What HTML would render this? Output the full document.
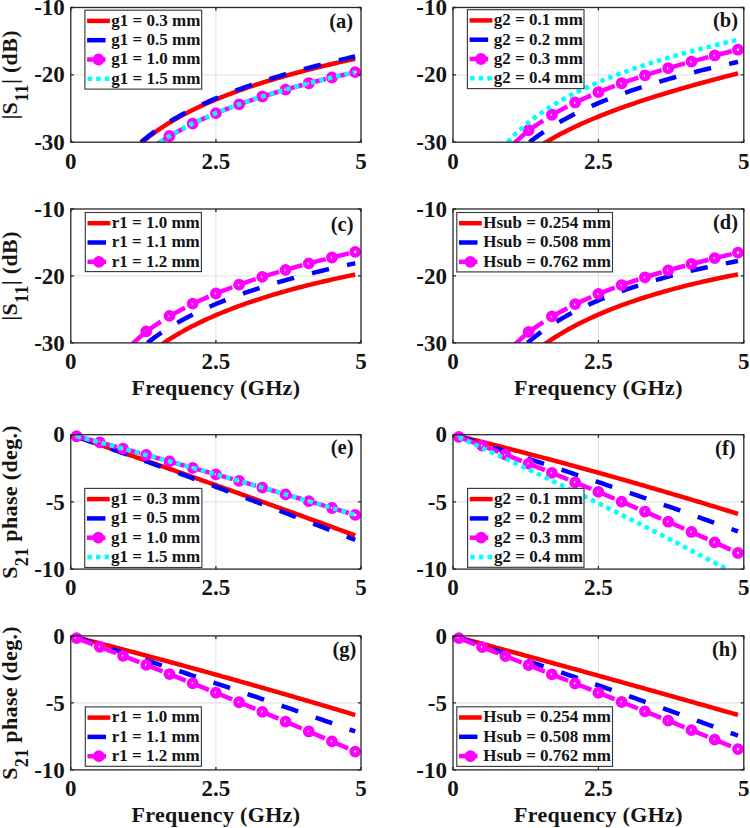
<!DOCTYPE html>
<html><head><meta charset="utf-8"><title>Parametric study</title>
<style>html,body{margin:0;padding:0;background:#fff;}body{width:750px;height:828px;overflow:hidden;}svg{display:block;}text{font-family:'Liberation Serif', serif;font-weight:bold;fill:#141414;}</style>
</head><body>
<svg width="750" height="828" viewBox="0 0 750 828">
<rect width="750" height="828" fill="#fff"/>
<defs>
<clipPath id="c0"><rect x="70.8" y="7.5" width="290.2" height="134.7"/></clipPath>
<clipPath id="c1"><rect x="453" y="7.5" width="290.8" height="134.7"/></clipPath>
<clipPath id="c2"><rect x="70.8" y="209" width="290.2" height="133.9"/></clipPath>
<clipPath id="c3"><rect x="453" y="209" width="290.8" height="133.9"/></clipPath>
<clipPath id="c4"><rect x="70.8" y="434.7" width="290.2" height="134.4"/></clipPath>
<clipPath id="c5"><rect x="453" y="434.7" width="290.8" height="134.4"/></clipPath>
<clipPath id="c6"><rect x="70.8" y="635.9" width="290.2" height="134"/></clipPath>
<clipPath id="c7"><rect x="453" y="635.9" width="290.8" height="134"/></clipPath>
</defs>
<path d="M215.9 7.5V142.2M70.8 74.85H361" stroke="#dfdfdf" stroke-width="1" fill="none"/>
<polyline clip-path="url(#c0)" fill="none" stroke-width="4.5" stroke-linejoin="round" points="135.8,147.72 138.13,145.62 140.45,143.58 142.77,141.62 145.09,139.71 147.41,137.87 149.73,136.07 152.06,134.33 154.38,132.64 156.7,131 159.02,129.4 161.34,127.84 163.66,126.32 165.99,124.84 168.31,123.39 170.63,121.98 172.95,120.6 175.27,119.25 177.59,117.93 179.92,116.64 182.24,115.37 184.56,114.13 186.88,112.92 189.2,111.73 191.52,110.56 193.84,109.42 196.17,108.29 198.49,107.19 200.81,106.11 203.13,105.04 205.45,104 207.77,102.97 210.1,101.96 212.42,100.96 214.74,99.98 217.06,99.02 219.38,98.07 221.7,97.14 224.03,96.22 226.35,95.32 228.67,94.42 230.99,93.54 233.31,92.68 235.63,91.82 237.96,90.98 240.28,90.15 242.6,89.33 244.92,88.52 247.24,87.72 249.56,86.93 251.88,86.15 254.21,85.39 256.53,84.63 258.85,83.88 261.17,83.14 263.49,82.41 265.81,81.68 268.14,80.97 270.46,80.26 272.78,79.56 275.1,78.87 277.42,78.19 279.74,77.52 282.07,76.85 284.39,76.19 286.71,75.53 289.03,74.89 291.35,74.25 293.67,73.61 296,72.99 298.32,72.36 300.64,71.75 302.96,71.14 305.28,70.54 307.6,69.94 309.92,69.35 312.25,68.77 314.57,68.19 316.89,67.61 319.21,67.04 321.53,66.48 323.85,65.92 326.18,65.36 328.5,64.81 330.82,64.27 333.14,63.73 335.46,63.2 337.78,62.66 340.11,62.14 342.43,61.62 344.75,61.1 347.07,60.59 349.39,60.08 351.71,59.57 354.04,59.07 355.2,58.82" stroke="#ff0000"/>
<polyline clip-path="url(#c0)" fill="none" stroke-width="4.5" stroke-linejoin="round" points="134.64,147.91 136.97,145.77 139.29,143.71 141.61,141.71 143.93,139.77 146.25,137.9 148.57,136.08 150.9,134.32 153.22,132.6 155.54,130.93 157.86,129.31 160.18,127.72 162.5,126.18 164.82,124.68 167.15,123.21 169.47,121.77 171.79,120.37 174.11,119 176.43,117.66 178.75,116.35 181.08,115.07 183.4,113.81 185.72,112.57 188.04,111.36 190.36,110.18 192.68,109.01 195.01,107.87 197.33,106.75 199.65,105.65 201.97,104.56 204.29,103.5 206.61,102.45 208.94,101.42 211.26,100.41 213.58,99.41 215.9,98.43 218.22,97.46 220.54,96.5 222.86,95.57 225.19,94.64 227.51,93.73 229.83,92.83 232.15,91.94 234.47,91.07 236.79,90.2 239.12,89.35 241.44,88.51 243.76,87.68 246.08,86.86 248.4,86.05 250.72,85.25 253.05,84.46 255.37,83.68 257.69,82.91 260.01,82.14 262.33,81.39 264.65,80.64 266.98,79.91 269.3,79.18 271.62,78.45 273.94,77.74 276.26,77.03 278.58,76.33 280.9,75.64 283.23,74.96 285.55,74.28 287.87,73.61 290.19,72.94 292.51,72.28 294.83,71.63 297.16,70.98 299.48,70.34 301.8,69.71 304.12,69.08 306.44,68.45 308.76,67.83 311.09,67.22 313.41,66.61 315.73,66.01 318.05,65.41 320.37,64.82 322.69,64.23 325.02,63.65 327.34,63.07 329.66,62.5 331.98,61.93 334.3,61.36 336.62,60.8 338.94,60.25 341.27,59.7 343.59,59.15 345.91,58.6 348.23,58.06 350.55,57.53 352.87,56.99 355.2,56.46" stroke="#0000ff" stroke-dasharray="17.5 18.5" stroke-dashoffset="-8.57"/>
<g clip-path="url(#c0)" fill="none" stroke="#ff00ff" stroke-width="4.5" stroke-dasharray="17.5 300"><path d="M157.87 143.89L169.47 136.01" stroke-dasharray="20.5 300"/><path d="M169.47 136.01L192.68 123.53"/><path d="M192.68 123.53L215.9 113.17"/><path d="M215.9 113.17L239.12 104.3"/><path d="M239.12 104.3L262.33 96.52"/><path d="M262.33 96.52L285.55 89.57"/><path d="M285.55 89.57L308.76 83.27"/><path d="M308.76 83.27L331.98 77.5"/><path d="M331.98 77.5L355.2 72.16"/></g>
<circle cx="169.47" cy="136.01" r="3.6" stroke="#ff00ff" stroke-width="4.6" fill="none"/>
<circle cx="192.68" cy="123.53" r="3.6" stroke="#ff00ff" stroke-width="4.6" fill="none"/>
<circle cx="215.9" cy="113.17" r="3.6" stroke="#ff00ff" stroke-width="4.6" fill="none"/>
<circle cx="239.12" cy="104.3" r="3.6" stroke="#ff00ff" stroke-width="4.6" fill="none"/>
<circle cx="262.33" cy="96.52" r="3.6" stroke="#ff00ff" stroke-width="4.6" fill="none"/>
<circle cx="285.55" cy="89.57" r="3.6" stroke="#ff00ff" stroke-width="4.6" fill="none"/>
<circle cx="308.76" cy="83.27" r="3.6" stroke="#ff00ff" stroke-width="4.6" fill="none"/>
<circle cx="331.98" cy="77.5" r="3.6" stroke="#ff00ff" stroke-width="4.6" fill="none"/>
<circle cx="355.2" cy="72.16" r="3.6" stroke="#ff00ff" stroke-width="4.6" fill="none"/>
<polyline clip-path="url(#c0)" fill="none" stroke-width="4.5" stroke-linejoin="round" points="152.64,147.01 154.96,145.36 157.28,143.76 159.6,142.21 161.92,140.69 164.24,139.21 166.57,137.76 168.89,136.35 171.21,134.97 173.53,133.63 175.85,132.31 178.17,131.02 180.5,129.76 182.82,128.52 185.14,127.31 187.46,126.12 189.78,124.95 192.1,123.81 194.43,122.69 196.75,121.58 199.07,120.5 201.39,119.44 203.71,118.39 206.03,117.36 208.35,116.35 210.68,115.36 213,114.38 215.32,113.41 217.64,112.46 219.96,111.53 222.28,110.61 224.61,109.7 226.93,108.8 229.25,107.92 231.57,107.05 233.89,106.19 236.21,105.34 238.54,104.51 240.86,103.68 243.18,102.87 245.5,102.06 247.82,101.27 250.14,100.49 252.47,99.71 254.79,98.95 257.11,98.19 259.43,97.44 261.75,96.7 264.07,95.97 266.39,95.25 268.72,94.53 271.04,93.82 273.36,93.12 275.68,92.43 278,91.75 280.32,91.07 282.65,90.4 284.97,89.73 287.29,89.07 289.61,88.42 291.93,87.77 294.25,87.14 296.58,86.5 298.9,85.87 301.22,85.25 303.54,84.64 305.86,84.02 308.18,83.42 310.51,82.82 312.83,82.22 315.15,81.63 317.47,81.05 319.79,80.47 322.11,79.89 324.43,79.32 326.76,78.75 329.08,78.19 331.4,77.64 333.72,77.08 336.04,76.53 338.36,75.99 340.69,75.45 343.01,74.91 345.33,74.38 347.65,73.85 349.97,73.32 352.29,72.8 354.62,72.29 355.2,72.16" stroke="#00ffff" stroke-dasharray="4.5 4.1" stroke-dashoffset="-8.47"/>
<rect x="70.8" y="7.5" width="290.2" height="134.7" fill="none" stroke="#262626" stroke-width="1.3"/>
<path d="M70.8 142.2v-3M70.8 7.5v3M215.9 142.2v-3M215.9 7.5v3M361 142.2v-3M361 7.5v3M70.8 142.2h3M361 142.2h-3M70.8 74.85h3M361 74.85h-3M70.8 7.5h3M361 7.5h-3" stroke="#262626" stroke-width="1.3" fill="none"/>
<text x="70.8" y="168.5" font-size="23" text-anchor="middle">0</text>
<text x="215.9" y="168.5" font-size="23" text-anchor="middle">2.5</text>
<text x="361" y="168.5" font-size="23" text-anchor="middle">5</text>
<text x="64.8" y="149.8" font-size="23" text-anchor="end">-30</text>
<text x="64.8" y="82.45" font-size="23" text-anchor="end">-20</text>
<text x="64.8" y="15.1" font-size="23" text-anchor="end">-10</text>
<rect x="84.9" y="10.2" width="116.8" height="78.9" fill="#fff" stroke="#3a3a3a" stroke-width="1.15"/>
<path d="M87.1 20.9H109.9" stroke="#ff0000" stroke-width="4.5"/>
<text x="111.3" y="25.7" font-size="17">g1 = 0.3 mm</text>
<path d="M87.1 40.2H105.6" stroke="#0000ff" stroke-width="4.5"/>
<text x="111.3" y="45" font-size="17">g1 = 0.5 mm</text>
<path d="M87.1 59.5H105.6" stroke="#ff00ff" stroke-width="4.5"/>
<circle cx="98.5" cy="59.5" r="3.6" stroke="#ff00ff" stroke-width="4.6" fill="#ff00ff"/>
<text x="111.3" y="64.3" font-size="17">g1 = 1.0 mm</text>
<path d="M87.6 78.8H109.9" stroke="#00ffff" stroke-width="4.5" stroke-dasharray="4.5 4.1"/>
<text x="111.3" y="83.6" font-size="17">g1 = 1.5 mm</text>
<text x="353.2" y="28.4" font-size="20.5" text-anchor="end">(a)</text>
<path d="M598.4 7.5V142.2M453 74.85H743.8" stroke="#dfdfdf" stroke-width="1" fill="none"/>
<polyline clip-path="url(#c1)" fill="none" stroke-width="4.5" stroke-linejoin="round" points="539.08,146.57 541.4,145.07 543.73,143.62 546.06,142.2 548.38,140.81 550.71,139.46 553.04,138.13 555.36,136.83 557.69,135.56 560.01,134.31 562.34,133.09 564.67,131.89 566.99,130.71 569.32,129.56 571.65,128.42 573.97,127.31 576.3,126.21 578.63,125.13 580.95,124.07 583.28,123.03 585.6,122 587.93,120.99 590.26,119.99 592.58,119 594.91,118.04 597.24,117.08 599.56,116.14 601.89,115.2 604.22,114.29 606.54,113.38 608.87,112.48 611.2,111.6 613.52,110.72 615.85,109.86 618.17,109 620.5,108.16 622.83,107.32 625.15,106.49 627.48,105.68 629.81,104.87 632.13,104.06 634.46,103.27 636.79,102.48 639.11,101.71 641.44,100.93 643.76,100.17 646.09,99.41 648.42,98.66 650.74,97.92 653.07,97.18 655.4,96.45 657.72,95.72 660.05,95 662.38,94.29 664.7,93.58 667.03,92.87 669.36,92.17 671.68,91.48 674.01,90.79 676.33,90.11 678.66,89.43 680.99,88.75 683.31,88.08 685.64,87.42 687.97,86.75 690.29,86.1 692.62,85.44 694.95,84.79 697.27,84.15 699.6,83.5 701.92,82.87 704.25,82.23 706.58,81.6 708.9,80.97 711.23,80.34 713.56,79.72 715.88,79.1 718.21,78.49 720.54,77.87 722.86,77.26 725.19,76.66 727.52,76.05 729.84,75.45 732.17,74.85 734.49,74.25 736.82,73.66 737.98,73.36" stroke="#ff0000"/>
<polyline clip-path="url(#c1)" fill="none" stroke-width="4.5" stroke-linejoin="round" points="523.37,147.36 525.7,145.38 528.03,143.46 530.35,141.6 532.68,139.8 535.01,138.04 537.33,136.34 539.66,134.68 541.98,133.07 544.31,131.5 546.64,129.96 548.96,128.47 551.29,127.01 553.62,125.58 555.94,124.19 558.27,122.83 560.6,121.5 562.92,120.19 565.25,118.92 567.58,117.67 569.9,116.44 572.23,115.24 574.55,114.06 576.88,112.91 579.21,111.77 581.53,110.66 583.86,109.56 586.19,108.49 588.51,107.43 590.84,106.39 593.17,105.37 595.49,104.37 597.82,103.38 600.14,102.41 602.47,101.45 604.8,100.51 607.12,99.58 609.45,98.66 611.78,97.76 614.1,96.87 616.43,96 618.76,95.14 621.08,94.28 623.41,93.44 625.74,92.62 628.06,91.8 630.39,90.99 632.71,90.19 635.04,89.41 637.37,88.63 639.69,87.87 642.02,87.11 644.35,86.36 646.67,85.62 649,84.89 651.33,84.17 653.65,83.45 655.98,82.75 658.3,82.05 660.63,81.36 662.96,80.68 665.28,80 667.61,79.34 669.94,78.68 672.26,78.02 674.59,77.38 676.92,76.74 679.24,76.1 681.57,75.47 683.9,74.85 686.22,74.24 688.55,73.63 690.87,73.03 693.2,72.43 695.53,71.84 697.85,71.25 700.18,70.67 702.51,70.1 704.83,69.53 707.16,68.96 709.49,68.4 711.81,67.85 714.14,67.3 716.46,66.75 718.79,66.21 721.12,65.68 723.44,65.14 725.77,64.62 728.1,64.09 730.42,63.58 732.75,63.06 735.08,62.55 737.4,62.05 737.98,61.92" stroke="#0000ff" stroke-dasharray="17.5 18.5" stroke-dashoffset="-8.08"/>
<g clip-path="url(#c1)" fill="none" stroke="#ff00ff" stroke-width="4.5" stroke-dasharray="17.5 300"><path d="M513.09 144.21L528.61 130.21" stroke-dasharray="20.5 300"/><path d="M528.61 130.21L551.87 114.77"/><path d="M551.87 114.77L575.14 102.46"/><path d="M575.14 102.46L598.4 92.16"/><path d="M598.4 92.16L621.66 83.24"/><path d="M621.66 83.24L644.93 75.33"/><path d="M644.93 75.33L668.19 68.17"/><path d="M668.19 68.17L691.46 61.59"/><path d="M691.46 61.59L714.72 55.47"/><path d="M714.72 55.47L737.98 49.72"/></g>
<circle cx="528.61" cy="130.21" r="3.6" stroke="#ff00ff" stroke-width="4.6" fill="none"/>
<circle cx="551.87" cy="114.77" r="3.6" stroke="#ff00ff" stroke-width="4.6" fill="none"/>
<circle cx="575.14" cy="102.46" r="3.6" stroke="#ff00ff" stroke-width="4.6" fill="none"/>
<circle cx="598.4" cy="92.16" r="3.6" stroke="#ff00ff" stroke-width="4.6" fill="none"/>
<circle cx="621.66" cy="83.24" r="3.6" stroke="#ff00ff" stroke-width="4.6" fill="none"/>
<circle cx="644.93" cy="75.33" r="3.6" stroke="#ff00ff" stroke-width="4.6" fill="none"/>
<circle cx="668.19" cy="68.17" r="3.6" stroke="#ff00ff" stroke-width="4.6" fill="none"/>
<circle cx="691.46" cy="61.59" r="3.6" stroke="#ff00ff" stroke-width="4.6" fill="none"/>
<circle cx="714.72" cy="55.47" r="3.6" stroke="#ff00ff" stroke-width="4.6" fill="none"/>
<circle cx="737.98" cy="49.72" r="3.6" stroke="#ff00ff" stroke-width="4.6" fill="none"/>
<polyline clip-path="url(#c1)" fill="none" stroke-width="4.5" stroke-linejoin="round" points="501.85,148.98 504.18,146.15 506.51,143.44 508.83,140.85 511.16,138.37 513.49,135.98 515.81,133.68 518.14,131.46 520.47,129.32 522.79,127.26 525.12,125.26 527.44,123.32 529.77,121.44 532.1,119.62 534.42,117.85 536.75,116.13 539.08,114.45 541.4,112.82 543.73,111.23 546.06,109.69 548.38,108.17 550.71,106.7 553.04,105.26 555.36,103.85 557.69,102.47 560.01,101.12 562.34,99.81 564.67,98.51 566.99,97.25 569.32,96.01 571.65,94.79 573.97,93.6 576.3,92.42 578.63,91.27 580.95,90.14 583.28,89.03 585.6,87.94 587.93,86.87 590.26,85.82 592.58,84.78 594.91,83.76 597.24,82.75 599.56,81.76 601.89,80.79 604.22,79.83 606.54,78.88 608.87,77.95 611.2,77.03 613.52,76.13 615.85,75.23 618.17,74.35 620.5,73.48 622.83,72.62 625.15,71.78 627.48,70.94 629.81,70.12 632.13,69.3 634.46,68.49 636.79,67.7 639.11,66.91 641.44,66.14 643.76,65.37 646.09,64.61 648.42,63.86 650.74,63.11 653.07,62.38 655.4,61.65 657.72,60.93 660.05,60.22 662.38,59.52 664.7,58.82 667.03,58.13 669.36,57.45 671.68,56.77 674.01,56.11 676.33,55.44 678.66,54.79 680.99,54.14 683.31,53.49 685.64,52.85 687.97,52.22 690.29,51.59 692.62,50.97 694.95,50.36 697.27,49.74 699.6,49.14 701.92,48.54 704.25,47.94 706.58,47.35 708.9,46.77 711.23,46.19 713.56,45.61 715.88,45.04 718.21,44.47 720.54,43.91 722.86,43.35 725.19,42.8 727.52,42.25 729.84,41.7 732.17,41.16 734.49,40.62 736.82,40.09 737.98,39.82" stroke="#00ffff" stroke-dasharray="4.5 4.1" stroke-dashoffset="-8.9"/>
<rect x="453" y="7.5" width="290.8" height="134.7" fill="none" stroke="#262626" stroke-width="1.3"/>
<path d="M453 142.2v-3M453 7.5v3M598.4 142.2v-3M598.4 7.5v3M743.8 142.2v-3M743.8 7.5v3M453 142.2h3M743.8 142.2h-3M453 74.85h3M743.8 74.85h-3M453 7.5h3M743.8 7.5h-3" stroke="#262626" stroke-width="1.3" fill="none"/>
<text x="453" y="168.5" font-size="23" text-anchor="middle">0</text>
<text x="598.4" y="168.5" font-size="23" text-anchor="middle">2.5</text>
<text x="743.8" y="168.5" font-size="23" text-anchor="middle">5</text>
<text x="447" y="149.8" font-size="23" text-anchor="end">-30</text>
<text x="447" y="82.45" font-size="23" text-anchor="end">-20</text>
<text x="447" y="15.1" font-size="23" text-anchor="end">-10</text>
<rect x="467.4" y="9.7" width="116.6" height="78.9" fill="#fff" stroke="#3a3a3a" stroke-width="1.15"/>
<path d="M469.6 20.4H492.4" stroke="#ff0000" stroke-width="4.5"/>
<text x="493.8" y="25.2" font-size="17">g2 = 0.1 mm</text>
<path d="M469.6 39.7H488.1" stroke="#0000ff" stroke-width="4.5"/>
<text x="493.8" y="44.5" font-size="17">g2 = 0.2 mm</text>
<path d="M469.6 59H488.1" stroke="#ff00ff" stroke-width="4.5"/>
<circle cx="481" cy="59" r="3.6" stroke="#ff00ff" stroke-width="4.6" fill="#ff00ff"/>
<text x="493.8" y="63.8" font-size="17">g2 = 0.3 mm</text>
<path d="M470.1 78.3H492.4" stroke="#00ffff" stroke-width="4.5" stroke-dasharray="4.5 4.1"/>
<text x="493.8" y="83.1" font-size="17">g2 = 0.4 mm</text>
<text x="738" y="27.1" font-size="20.5" text-anchor="end">(b)</text>
<path d="M215.9 209V342.9M70.8 275.95H361" stroke="#dfdfdf" stroke-width="1" fill="none"/>
<polyline clip-path="url(#c2)" fill="none" stroke-width="4.5" stroke-linejoin="round" points="157.28,347.63 159.6,345.96 161.92,344.33 164.24,342.74 166.57,341.2 168.89,339.69 171.21,338.21 173.53,336.78 175.85,335.37 178.17,334 180.5,332.65 182.82,331.34 185.14,330.05 187.46,328.79 189.78,327.56 192.1,326.35 194.43,325.16 196.75,324 199.07,322.86 201.39,321.74 203.71,320.64 206.03,319.56 208.35,318.5 210.68,317.46 213,316.44 215.32,315.43 217.64,314.44 219.96,313.47 222.28,312.51 224.61,311.57 226.93,310.64 229.25,309.73 231.57,308.83 233.89,307.95 236.21,307.08 238.54,306.22 240.86,305.37 243.18,304.54 245.5,303.72 247.82,302.91 250.14,302.11 252.47,301.32 254.79,300.55 257.11,299.78 259.43,299.02 261.75,298.28 264.07,297.54 266.39,296.82 268.72,296.1 271.04,295.39 273.36,294.69 275.68,294 278,293.32 280.32,292.65 282.65,291.99 284.97,291.33 287.29,290.68 289.61,290.04 291.93,289.41 294.25,288.78 296.58,288.16 298.9,287.55 301.22,286.95 303.54,286.35 305.86,285.76 308.18,285.18 310.51,284.6 312.83,284.03 315.15,283.46 317.47,282.9 319.79,282.35 322.11,281.8 324.43,281.26 326.76,280.73 329.08,280.2 331.4,279.67 333.72,279.16 336.04,278.64 338.36,278.14 340.69,277.63 343.01,277.14 345.33,276.64 347.65,276.16 349.97,275.67 352.29,275.2 354.62,274.72 355.2,274.61" stroke="#ff0000"/>
<polyline clip-path="url(#c2)" fill="none" stroke-width="4.5" stroke-linejoin="round" points="141.03,348.2 143.35,346.22 145.67,344.3 147.99,342.44 150.31,340.63 152.64,338.88 154.96,337.17 157.28,335.51 159.6,333.9 161.92,332.33 164.24,330.79 166.57,329.3 168.89,327.84 171.21,326.41 173.53,325.02 175.85,323.66 178.17,322.33 180.5,321.03 182.82,319.75 185.14,318.5 187.46,317.28 189.78,316.08 192.1,314.9 194.43,313.75 196.75,312.62 199.07,311.5 201.39,310.41 203.71,309.34 206.03,308.29 208.35,307.25 210.68,306.23 213,305.23 215.32,304.25 217.64,303.28 219.96,302.32 222.28,301.38 224.61,300.46 226.93,299.55 229.25,298.65 231.57,297.77 233.89,296.9 236.21,296.04 238.54,295.19 240.86,294.36 243.18,293.53 245.5,292.72 247.82,291.92 250.14,291.13 252.47,290.35 254.79,289.58 257.11,288.82 259.43,288.06 261.75,287.32 264.07,286.59 266.39,285.87 268.72,285.15 271.04,284.44 273.36,283.74 275.68,283.05 278,282.37 280.32,281.7 282.65,281.03 284.97,280.37 287.29,279.71 289.61,279.07 291.93,278.43 294.25,277.8 296.58,277.17 298.9,276.55 301.22,275.94 303.54,275.33 305.86,274.73 308.18,274.14 310.51,273.55 312.83,272.97 315.15,272.39 317.47,271.82 319.79,271.25 322.11,270.69 324.43,270.14 326.76,269.59 329.08,269.04 331.4,268.5 333.72,267.97 336.04,267.44 338.36,266.91 340.69,266.39 343.01,265.87 345.33,265.36 347.65,264.86 349.97,264.35 352.29,263.85 354.62,263.36 355.2,263.24" stroke="#0000ff" stroke-dasharray="17.5 18.5" stroke-dashoffset="-8.3"/>
<g clip-path="url(#c2)" fill="none" stroke="#ff00ff" stroke-width="4.5" stroke-dasharray="17.5 300"><path d="M131.23 344.91L146.25 331.35" stroke-dasharray="20.5 300"/><path d="M146.25 331.35L169.47 315.94"/><path d="M169.47 315.94L192.68 303.69"/><path d="M192.68 303.69L215.9 293.47"/><path d="M215.9 293.47L239.12 284.65"/><path d="M239.12 284.65L262.33 276.86"/><path d="M262.33 276.86L285.55 269.84"/><path d="M285.55 269.84L308.76 263.42"/><path d="M308.76 263.42L331.98 257.48"/><path d="M331.98 257.48L355.2 251.92"/></g>
<circle cx="146.25" cy="331.35" r="3.6" stroke="#ff00ff" stroke-width="4.6" fill="none"/>
<circle cx="169.47" cy="315.94" r="3.6" stroke="#ff00ff" stroke-width="4.6" fill="none"/>
<circle cx="192.68" cy="303.69" r="3.6" stroke="#ff00ff" stroke-width="4.6" fill="none"/>
<circle cx="215.9" cy="293.47" r="3.6" stroke="#ff00ff" stroke-width="4.6" fill="none"/>
<circle cx="239.12" cy="284.65" r="3.6" stroke="#ff00ff" stroke-width="4.6" fill="none"/>
<circle cx="262.33" cy="276.86" r="3.6" stroke="#ff00ff" stroke-width="4.6" fill="none"/>
<circle cx="285.55" cy="269.84" r="3.6" stroke="#ff00ff" stroke-width="4.6" fill="none"/>
<circle cx="308.76" cy="263.42" r="3.6" stroke="#ff00ff" stroke-width="4.6" fill="none"/>
<circle cx="331.98" cy="257.48" r="3.6" stroke="#ff00ff" stroke-width="4.6" fill="none"/>
<circle cx="355.2" cy="251.92" r="3.6" stroke="#ff00ff" stroke-width="4.6" fill="none"/>
<rect x="70.8" y="209" width="290.2" height="133.9" fill="none" stroke="#262626" stroke-width="1.3"/>
<path d="M70.8 342.9v-3M70.8 209v3M215.9 342.9v-3M215.9 209v3M361 342.9v-3M361 209v3M70.8 342.9h3M361 342.9h-3M70.8 275.95h3M361 275.95h-3M70.8 209h3M361 209h-3" stroke="#262626" stroke-width="1.3" fill="none"/>
<text x="70.8" y="369.2" font-size="23" text-anchor="middle">0</text>
<text x="215.9" y="369.2" font-size="23" text-anchor="middle">2.5</text>
<text x="361" y="369.2" font-size="23" text-anchor="middle">5</text>
<text x="64.8" y="350.5" font-size="23" text-anchor="end">-30</text>
<text x="64.8" y="283.55" font-size="23" text-anchor="end">-20</text>
<text x="64.8" y="216.6" font-size="23" text-anchor="end">-10</text>
<rect x="85.3" y="212.5" width="116.1" height="59.1" fill="#fff" stroke="#3a3a3a" stroke-width="1.15"/>
<path d="M87.5 223.2H110.3" stroke="#ff0000" stroke-width="4.5"/>
<text x="111.7" y="228" font-size="17">r1 = 1.0 mm</text>
<path d="M87.5 242.5H106" stroke="#0000ff" stroke-width="4.5"/>
<text x="111.7" y="247.3" font-size="17">r1 = 1.1 mm</text>
<path d="M87.5 261.8H106" stroke="#ff00ff" stroke-width="4.5"/>
<circle cx="98.9" cy="261.8" r="3.6" stroke="#ff00ff" stroke-width="4.6" fill="#ff00ff"/>
<text x="111.7" y="266.6" font-size="17">r1 = 1.2 mm</text>
<text x="353.5" y="231.1" font-size="20.5" text-anchor="end">(c)</text>
<path d="M598.4 209V342.9M453 275.95H743.8" stroke="#dfdfdf" stroke-width="1" fill="none"/>
<polyline clip-path="url(#c3)" fill="none" stroke-width="4.5" stroke-linejoin="round" points="539.66,347.95 541.98,346.22 544.31,344.54 546.64,342.9 548.96,341.3 551.29,339.74 553.62,338.22 555.94,336.74 558.27,335.29 560.6,333.87 562.92,332.49 565.25,331.13 567.58,329.81 569.9,328.51 572.23,327.24 574.55,326 576.88,324.79 579.21,323.59 581.53,322.42 583.86,321.28 586.19,320.15 588.51,319.05 590.84,317.96 593.17,316.9 595.49,315.86 597.82,314.83 600.14,313.82 602.47,312.83 604.8,311.86 607.12,310.9 609.45,309.96 611.78,309.03 614.1,308.12 616.43,307.23 618.76,306.35 621.08,305.48 623.41,304.62 625.74,303.78 628.06,302.95 630.39,302.14 632.71,301.34 635.04,300.54 637.37,299.77 639.69,299 642.02,298.24 644.35,297.49 646.67,296.76 649,296.03 651.33,295.32 653.65,294.61 655.98,293.92 658.3,293.23 660.63,292.56 662.96,291.89 665.28,291.23 667.61,290.58 669.94,289.94 672.26,289.31 674.59,288.69 676.92,288.07 679.24,287.46 681.57,286.86 683.9,286.27 686.22,285.69 688.55,285.11 690.87,284.54 693.2,283.98 695.53,283.42 697.85,282.88 700.18,282.33 702.51,281.8 704.83,281.27 707.16,280.75 709.49,280.23 711.81,279.72 714.14,279.22 716.46,278.72 718.79,278.23 721.12,277.75 723.44,277.27 725.77,276.8 728.1,276.33 730.42,275.87 732.75,275.41 735.08,274.96 737.4,274.51 737.98,274.4" stroke="#ff0000"/>
<polyline clip-path="url(#c3)" fill="none" stroke-width="4.5" stroke-linejoin="round" points="521.05,348.71 523.37,346.54 525.7,344.43 528.03,342.4 530.35,340.43 532.68,338.52 535.01,336.66 537.33,334.86 539.66,333.11 541.98,331.41 544.31,329.76 546.64,328.14 548.96,326.57 551.29,325.04 553.62,323.55 555.94,322.09 558.27,320.66 560.6,319.27 562.92,317.91 565.25,316.58 567.58,315.28 569.9,314.01 572.23,312.76 574.55,311.54 576.88,310.35 579.21,309.17 581.53,308.03 583.86,306.9 586.19,305.79 588.51,304.71 590.84,303.65 593.17,302.6 595.49,301.58 597.82,300.57 600.14,299.58 602.47,298.61 604.8,297.65 607.12,296.71 609.45,295.79 611.78,294.88 614.1,293.99 616.43,293.11 618.76,292.25 621.08,291.39 623.41,290.56 625.74,289.73 628.06,288.92 630.39,288.12 632.71,287.33 635.04,286.56 637.37,285.8 639.69,285.04 642.02,284.3 644.35,283.57 646.67,282.85 649,282.14 651.33,281.44 653.65,280.75 655.98,280.07 658.3,279.4 660.63,278.74 662.96,278.09 665.28,277.44 667.61,276.81 669.94,276.18 672.26,275.56 674.59,274.95 676.92,274.35 679.24,273.76 681.57,273.17 683.9,272.59 686.22,272.02 688.55,271.46 690.87,270.9 693.2,270.35 695.53,269.81 697.85,269.28 700.18,268.75 702.51,268.23 704.83,267.71 707.16,267.2 709.49,266.7 711.81,266.2 714.14,265.71 716.46,265.23 718.79,264.75 721.12,264.28 723.44,263.81 725.77,263.35 728.1,262.9 730.42,262.45 732.75,262 735.08,261.56 737.4,261.13 737.98,261.02" stroke="#0000ff" stroke-dasharray="17.5 18.5" stroke-dashoffset="-8.64"/>
<g clip-path="url(#c3)" fill="none" stroke="#ff00ff" stroke-width="4.5" stroke-dasharray="17.5 300"><path d="M514.26 344.92L528.61 331.89" stroke-dasharray="20.5 300"/><path d="M528.61 331.89L551.87 316.39"/><path d="M551.87 316.39L575.14 304.09"/><path d="M575.14 304.09L598.4 293.85"/><path d="M598.4 293.85L621.66 285.04"/><path d="M621.66 285.04L644.93 277.28"/><path d="M644.93 277.28L668.19 270.31"/><path d="M668.19 270.31L691.46 263.97"/><path d="M691.46 263.97L714.72 258.12"/><path d="M714.72 258.12L737.98 252.67"/></g>
<circle cx="528.61" cy="331.89" r="3.6" stroke="#ff00ff" stroke-width="4.6" fill="none"/>
<circle cx="551.87" cy="316.39" r="3.6" stroke="#ff00ff" stroke-width="4.6" fill="none"/>
<circle cx="575.14" cy="304.09" r="3.6" stroke="#ff00ff" stroke-width="4.6" fill="none"/>
<circle cx="598.4" cy="293.85" r="3.6" stroke="#ff00ff" stroke-width="4.6" fill="none"/>
<circle cx="621.66" cy="285.04" r="3.6" stroke="#ff00ff" stroke-width="4.6" fill="none"/>
<circle cx="644.93" cy="277.28" r="3.6" stroke="#ff00ff" stroke-width="4.6" fill="none"/>
<circle cx="668.19" cy="270.31" r="3.6" stroke="#ff00ff" stroke-width="4.6" fill="none"/>
<circle cx="691.46" cy="263.97" r="3.6" stroke="#ff00ff" stroke-width="4.6" fill="none"/>
<circle cx="714.72" cy="258.12" r="3.6" stroke="#ff00ff" stroke-width="4.6" fill="none"/>
<circle cx="737.98" cy="252.67" r="3.6" stroke="#ff00ff" stroke-width="4.6" fill="none"/>
<rect x="453" y="209" width="290.8" height="133.9" fill="none" stroke="#262626" stroke-width="1.3"/>
<path d="M453 342.9v-3M453 209v3M598.4 342.9v-3M598.4 209v3M743.8 342.9v-3M743.8 209v3M453 342.9h3M743.8 342.9h-3M453 275.95h3M743.8 275.95h-3M453 209h3M743.8 209h-3" stroke="#262626" stroke-width="1.3" fill="none"/>
<text x="453" y="369.2" font-size="23" text-anchor="middle">0</text>
<text x="598.4" y="369.2" font-size="23" text-anchor="middle">2.5</text>
<text x="743.8" y="369.2" font-size="23" text-anchor="middle">5</text>
<text x="447" y="350.5" font-size="23" text-anchor="end">-30</text>
<text x="447" y="283.55" font-size="23" text-anchor="end">-20</text>
<text x="447" y="216.6" font-size="23" text-anchor="end">-10</text>
<rect x="456.8" y="212.5" width="155.7" height="59.4" fill="#fff" stroke="#3a3a3a" stroke-width="1.15"/>
<path d="M459 223.2H481.8" stroke="#ff0000" stroke-width="4.5"/>
<text x="483.2" y="228" font-size="17">Hsub = 0.254 mm</text>
<path d="M459 242.5H477.5" stroke="#0000ff" stroke-width="4.5"/>
<text x="483.2" y="247.3" font-size="17">Hsub = 0.508 mm</text>
<path d="M459 261.8H477.5" stroke="#ff00ff" stroke-width="4.5"/>
<circle cx="470.4" cy="261.8" r="3.6" stroke="#ff00ff" stroke-width="4.6" fill="#ff00ff"/>
<text x="483.2" y="266.6" font-size="17">Hsub = 0.762 mm</text>
<text x="738" y="229" font-size="20.5" text-anchor="end">(d)</text>
<path d="M215.9 434.7V569.1M70.8 501.9H361" stroke="#dfdfdf" stroke-width="1" fill="none"/>
<polyline clip-path="url(#c4)" fill="none" stroke-width="4.5" stroke-linejoin="round" points="76.6,436.69 78.93,437.48 81.25,438.28 83.57,439.07 85.89,439.87 88.21,440.66 90.53,441.46 92.86,442.26 95.18,443.06 97.5,443.86 99.82,444.66 102.14,445.46 104.46,446.26 106.78,447.06 109.11,447.86 111.43,448.66 113.75,449.46 116.07,450.26 118.39,451.07 120.71,451.87 123.04,452.67 125.36,453.48 127.68,454.28 130,455.09 132.32,455.89 134.64,456.7 136.97,457.51 139.29,458.31 141.61,459.12 143.93,459.93 146.25,460.74 148.57,461.55 150.9,462.36 153.22,463.17 155.54,463.98 157.86,464.79 160.18,465.6 162.5,466.41 164.82,467.22 167.15,468.04 169.47,468.85 171.79,469.66 174.11,470.48 176.43,471.29 178.75,472.11 181.08,472.92 183.4,473.74 185.72,474.56 188.04,475.37 190.36,476.19 192.68,477.01 195.01,477.83 197.33,478.65 199.65,479.47 201.97,480.29 204.29,481.11 206.61,481.93 208.94,482.75 211.26,483.57 213.58,484.39 215.9,485.22 218.22,486.04 220.54,486.86 222.86,487.69 225.19,488.51 227.51,489.34 229.83,490.16 232.15,490.99 234.47,491.82 236.79,492.64 239.12,493.47 241.44,494.3 243.76,495.13 246.08,495.96 248.4,496.79 250.72,497.62 253.05,498.45 255.37,499.28 257.69,500.11 260.01,500.94 262.33,501.77 264.65,502.61 266.98,503.44 269.3,504.27 271.62,505.11 273.94,505.94 276.26,506.78 278.58,507.61 280.9,508.45 283.23,509.29 285.55,510.12 287.87,510.96 290.19,511.8 292.51,512.64 294.83,513.48 297.16,514.31 299.48,515.15 301.8,515.99 304.12,516.84 306.44,517.68 308.76,518.52 311.09,519.36 313.41,520.2 315.73,521.05 318.05,521.89 320.37,522.73 322.69,523.58 325.02,524.42 327.34,525.27 329.66,526.12 331.98,526.96 334.3,527.81 336.62,528.66 338.94,529.5 341.27,530.35 343.59,531.2 345.91,532.05 348.23,532.9 350.55,533.75 352.87,534.6 355.2,535.45" stroke="#ff0000"/>
<polyline clip-path="url(#c4)" fill="none" stroke-width="4.5" stroke-linejoin="round" points="76.6,436.72 78.93,437.53 81.25,438.35 83.57,439.16 85.89,439.97 88.21,440.79 90.53,441.6 92.86,442.42 95.18,443.24 97.5,444.05 99.82,444.87 102.14,445.69 104.46,446.51 106.78,447.33 109.11,448.15 111.43,448.98 113.75,449.8 116.07,450.62 118.39,451.45 120.71,452.27 123.04,453.1 125.36,453.93 127.68,454.76 130,455.59 132.32,456.42 134.64,457.25 136.97,458.08 139.29,458.91 141.61,459.74 143.93,460.58 146.25,461.41 148.57,462.25 150.9,463.08 153.22,463.92 155.54,464.76 157.86,465.6 160.18,466.44 162.5,467.28 164.82,468.12 167.15,468.96 169.47,469.81 171.79,470.65 174.11,471.49 176.43,472.34 178.75,473.19 181.08,474.03 183.4,474.88 185.72,475.73 188.04,476.58 190.36,477.43 192.68,478.28 195.01,479.13 197.33,479.99 199.65,480.84 201.97,481.69 204.29,482.55 206.61,483.41 208.94,484.26 211.26,485.12 213.58,485.98 215.9,486.84 218.22,487.7 220.54,488.56 222.86,489.42 225.19,490.28 227.51,491.15 229.83,492.01 232.15,492.88 234.47,493.74 236.79,494.61 239.12,495.48 241.44,496.35 243.76,497.22 246.08,498.09 248.4,498.96 250.72,499.83 253.05,500.7 255.37,501.58 257.69,502.45 260.01,503.33 262.33,504.2 264.65,505.08 266.98,505.96 269.3,506.83 271.62,507.71 273.94,508.59 276.26,509.47 278.58,510.36 280.9,511.24 283.23,512.12 285.55,513.01 287.87,513.89 290.19,514.78 292.51,515.66 294.83,516.55 297.16,517.44 299.48,518.33 301.8,519.22 304.12,520.11 306.44,521 308.76,521.89 311.09,522.78 313.41,523.68 315.73,524.57 318.05,525.47 320.37,526.37 322.69,527.26 325.02,528.16 327.34,529.06 329.66,529.96 331.98,530.86 334.3,531.76 336.62,532.66 338.94,533.57 341.27,534.47 343.59,535.38 345.91,536.28 348.23,537.19 350.55,538.09 352.87,539 355.2,539.91" stroke="#0000ff" stroke-dasharray="17.5 18.5" stroke-dashoffset="-0"/>
<g clip-path="url(#c4)" fill="none" stroke="#ff00ff" stroke-width="4.5" stroke-dasharray="17.5 300"><path d="M76.6 436.23L99.82 442.41"/><path d="M99.82 442.41L123.04 448.66"/><path d="M123.04 448.66L146.25 454.98"/><path d="M146.25 454.98L169.47 461.37"/><path d="M169.47 461.37L192.68 467.82"/><path d="M192.68 467.82L215.9 474.35"/><path d="M215.9 474.35L239.12 480.94"/><path d="M239.12 480.94L262.33 487.6"/><path d="M262.33 487.6L285.55 494.33"/><path d="M285.55 494.33L308.76 501.13"/><path d="M308.76 501.13L331.98 508"/><path d="M331.98 508L355.2 514.94"/></g>
<circle cx="76.6" cy="436.23" r="3.6" stroke="#ff00ff" stroke-width="4.6" fill="none"/>
<circle cx="99.82" cy="442.41" r="3.6" stroke="#ff00ff" stroke-width="4.6" fill="none"/>
<circle cx="123.04" cy="448.66" r="3.6" stroke="#ff00ff" stroke-width="4.6" fill="none"/>
<circle cx="146.25" cy="454.98" r="3.6" stroke="#ff00ff" stroke-width="4.6" fill="none"/>
<circle cx="169.47" cy="461.37" r="3.6" stroke="#ff00ff" stroke-width="4.6" fill="none"/>
<circle cx="192.68" cy="467.82" r="3.6" stroke="#ff00ff" stroke-width="4.6" fill="none"/>
<circle cx="215.9" cy="474.35" r="3.6" stroke="#ff00ff" stroke-width="4.6" fill="none"/>
<circle cx="239.12" cy="480.94" r="3.6" stroke="#ff00ff" stroke-width="4.6" fill="none"/>
<circle cx="262.33" cy="487.6" r="3.6" stroke="#ff00ff" stroke-width="4.6" fill="none"/>
<circle cx="285.55" cy="494.33" r="3.6" stroke="#ff00ff" stroke-width="4.6" fill="none"/>
<circle cx="308.76" cy="501.13" r="3.6" stroke="#ff00ff" stroke-width="4.6" fill="none"/>
<circle cx="331.98" cy="508" r="3.6" stroke="#ff00ff" stroke-width="4.6" fill="none"/>
<circle cx="355.2" cy="514.94" r="3.6" stroke="#ff00ff" stroke-width="4.6" fill="none"/>
<polyline clip-path="url(#c4)" fill="none" stroke-width="4.5" stroke-linejoin="round" points="76.6,436.23 78.93,436.85 81.25,437.46 83.57,438.08 85.89,438.7 88.21,439.32 90.53,439.93 92.86,440.55 95.18,441.17 97.5,441.79 99.82,442.41 102.14,443.04 104.46,443.66 106.78,444.28 109.11,444.91 111.43,445.53 113.75,446.16 116.07,446.78 118.39,447.41 120.71,448.04 123.04,448.66 125.36,449.29 127.68,449.92 130,450.55 132.32,451.18 134.64,451.81 136.97,452.45 139.29,453.08 141.61,453.71 143.93,454.35 146.25,454.98 148.57,455.62 150.9,456.25 153.22,456.89 155.54,457.53 157.86,458.17 160.18,458.81 162.5,459.44 164.82,460.09 167.15,460.73 169.47,461.37 171.79,462.01 174.11,462.65 176.43,463.3 178.75,463.94 181.08,464.59 183.4,465.23 185.72,465.88 188.04,466.53 190.36,467.18 192.68,467.82 195.01,468.47 197.33,469.12 199.65,469.77 201.97,470.43 204.29,471.08 206.61,471.73 208.94,472.38 211.26,473.04 213.58,473.69 215.9,474.35 218.22,475 220.54,475.66 222.86,476.32 225.19,476.98 227.51,477.64 229.83,478.3 232.15,478.96 234.47,479.62 236.79,480.28 239.12,480.94 241.44,481.6 243.76,482.27 246.08,482.93 248.4,483.6 250.72,484.26 253.05,484.93 255.37,485.6 257.69,486.27 260.01,486.93 262.33,487.6 264.65,488.27 266.98,488.94 269.3,489.62 271.62,490.29 273.94,490.96 276.26,491.63 278.58,492.31 280.9,492.98 283.23,493.66 285.55,494.33 287.87,495.01 290.19,495.69 292.51,496.37 294.83,497.05 297.16,497.72 299.48,498.41 301.8,499.09 304.12,499.77 306.44,500.45 308.76,501.13 311.09,501.82 313.41,502.5 315.73,503.19 318.05,503.87 320.37,504.56 322.69,505.25 325.02,505.93 327.34,506.62 329.66,507.31 331.98,508 334.3,508.69 336.62,509.38 338.94,510.08 341.27,510.77 343.59,511.46 345.91,512.16 348.23,512.85 350.55,513.55 352.87,514.24 355.2,514.94" stroke="#00ffff" stroke-dasharray="4.5 4.1" stroke-dashoffset="-0"/>
<rect x="70.8" y="434.7" width="290.2" height="134.4" fill="none" stroke="#262626" stroke-width="1.3"/>
<path d="M70.8 569.1v-3M70.8 434.7v3M215.9 569.1v-3M215.9 434.7v3M361 569.1v-3M361 434.7v3M70.8 569.1h3M361 569.1h-3M70.8 501.9h3M361 501.9h-3M70.8 434.7h3M361 434.7h-3" stroke="#262626" stroke-width="1.3" fill="none"/>
<text x="70.8" y="595.4" font-size="23" text-anchor="middle">0</text>
<text x="215.9" y="595.4" font-size="23" text-anchor="middle">2.5</text>
<text x="361" y="595.4" font-size="23" text-anchor="middle">5</text>
<text x="64.8" y="576.7" font-size="23" text-anchor="end">-10</text>
<text x="64.8" y="509.5" font-size="23" text-anchor="end">-5</text>
<text x="64.8" y="442.3" font-size="23" text-anchor="end">0</text>
<rect x="84.7" y="488.4" width="117.2" height="79.1" fill="#fff" stroke="#3a3a3a" stroke-width="1.15"/>
<path d="M86.9 499.1H109.7" stroke="#ff0000" stroke-width="4.5"/>
<text x="111.1" y="503.9" font-size="17">g1 = 0.3 mm</text>
<path d="M86.9 518.4H105.4" stroke="#0000ff" stroke-width="4.5"/>
<text x="111.1" y="523.2" font-size="17">g1 = 0.5 mm</text>
<path d="M86.9 537.7H105.4" stroke="#ff00ff" stroke-width="4.5"/>
<circle cx="98.3" cy="537.7" r="3.6" stroke="#ff00ff" stroke-width="4.6" fill="#ff00ff"/>
<text x="111.1" y="542.5" font-size="17">g1 = 1.0 mm</text>
<path d="M87.4 557H109.7" stroke="#00ffff" stroke-width="4.5" stroke-dasharray="4.5 4.1"/>
<text x="111.1" y="561.8" font-size="17">g1 = 1.5 mm</text>
<text x="353.5" y="453.6" font-size="20.5" text-anchor="end">(e)</text>
<path d="M598.4 434.7V569.1M453 501.9H743.8" stroke="#dfdfdf" stroke-width="1" fill="none"/>
<polyline clip-path="url(#c5)" fill="none" stroke-width="4.5" stroke-linejoin="round" points="458.82,436.13 461.14,436.7 463.47,437.27 465.8,437.85 468.12,438.43 470.45,439.01 472.77,439.58 475.1,440.17 477.43,440.75 479.75,441.33 482.08,441.91 484.41,442.5 486.73,443.09 489.06,443.68 491.39,444.26 493.71,444.86 496.04,445.45 498.36,446.04 500.69,446.63 503.02,447.23 505.34,447.83 507.67,448.43 510,449.03 512.32,449.63 514.65,450.23 516.98,450.83 519.3,451.44 521.63,452.04 523.96,452.65 526.28,453.26 528.61,453.87 530.93,454.48 533.26,455.09 535.59,455.7 537.91,456.32 540.24,456.93 542.57,457.55 544.89,458.17 547.22,458.79 549.55,459.41 551.87,460.03 554.2,460.65 556.52,461.28 558.85,461.9 561.18,462.53 563.5,463.16 565.83,463.79 568.16,464.42 570.48,465.05 572.81,465.69 575.14,466.32 577.46,466.96 579.79,467.59 582.12,468.23 584.44,468.87 586.77,469.51 589.09,470.15 591.42,470.8 593.75,471.44 596.07,472.09 598.4,472.74 600.73,473.38 603.05,474.03 605.38,474.68 607.71,475.34 610.03,475.99 612.36,476.64 614.68,477.3 617.01,477.96 619.34,478.62 621.66,479.28 623.99,479.94 626.32,480.6 628.64,481.26 630.97,481.93 633.3,482.59 635.62,483.26 637.95,483.93 640.28,484.6 642.6,485.27 644.93,485.94 647.25,486.62 649.58,487.29 651.91,487.97 654.23,488.64 656.56,489.32 658.89,490 661.21,490.68 663.54,491.37 665.87,492.05 668.19,492.73 670.52,493.42 672.84,494.11 675.17,494.8 677.5,495.49 679.82,496.18 682.15,496.87 684.48,497.56 686.8,498.26 689.13,498.95 691.46,499.65 693.78,500.35 696.11,501.05 698.44,501.75 700.76,502.45 703.09,503.16 705.41,503.86 707.74,504.57 710.07,505.28 712.39,505.99 714.72,506.7 717.05,507.41 719.37,508.12 721.7,508.83 724.03,509.55 726.35,510.26 728.68,510.98 731,511.7 733.33,512.42 735.66,513.14 737.98,513.86" stroke="#ff0000"/>
<polyline clip-path="url(#c5)" fill="none" stroke-width="4.5" stroke-linejoin="round" points="458.82,436.52 461.14,437.25 463.47,437.98 465.8,438.71 468.12,439.45 470.45,440.18 472.77,440.92 475.1,441.65 477.43,442.39 479.75,443.13 482.08,443.87 484.41,444.61 486.73,445.35 489.06,446.09 491.39,446.83 493.71,447.58 496.04,448.32 498.36,449.07 500.69,449.82 503.02,450.56 505.34,451.31 507.67,452.06 510,452.82 512.32,453.57 514.65,454.32 516.98,455.08 519.3,455.83 521.63,456.59 523.96,457.35 526.28,458.11 528.61,458.86 530.93,459.63 533.26,460.39 535.59,461.15 537.91,461.91 540.24,462.68 542.57,463.44 544.89,464.21 547.22,464.98 549.55,465.75 551.87,466.52 554.2,467.29 556.52,468.06 558.85,468.83 561.18,469.61 563.5,470.38 565.83,471.16 568.16,471.94 570.48,472.72 572.81,473.5 575.14,474.28 577.46,475.06 579.79,475.84 582.12,476.62 584.44,477.41 586.77,478.19 589.09,478.98 591.42,479.77 593.75,480.55 596.07,481.34 598.4,482.13 600.73,482.93 603.05,483.72 605.38,484.51 607.71,485.31 610.03,486.1 612.36,486.9 614.68,487.7 617.01,488.5 619.34,489.3 621.66,490.1 623.99,490.9 626.32,491.7 628.64,492.51 630.97,493.31 633.3,494.12 635.62,494.92 637.95,495.73 640.28,496.54 642.6,497.35 644.93,498.16 647.25,498.97 649.58,499.79 651.91,500.6 654.23,501.42 656.56,502.23 658.89,503.05 661.21,503.87 663.54,504.69 665.87,505.51 668.19,506.33 670.52,507.15 672.84,507.98 675.17,508.8 677.5,509.63 679.82,510.45 682.15,511.28 684.48,512.11 686.8,512.94 689.13,513.77 691.46,514.6 693.78,515.43 696.11,516.27 698.44,517.1 700.76,517.94 703.09,518.77 705.41,519.61 707.74,520.45 710.07,521.29 712.39,522.13 714.72,522.97 717.05,523.82 719.37,524.66 721.7,525.51 724.03,526.35 726.35,527.2 728.68,528.05 731,528.9 733.33,529.75 735.66,530.6 737.98,531.45" stroke="#0000ff" stroke-dasharray="17.5 18.5" stroke-dashoffset="-0"/>
<g clip-path="url(#c5)" fill="none" stroke="#ff00ff" stroke-width="4.5" stroke-dasharray="17.5 300"><path d="M458.82 436.87L482.08 445.63"/><path d="M482.08 445.63L505.34 454.57"/><path d="M505.34 454.57L528.61 463.66"/><path d="M528.61 463.66L551.87 472.93"/><path d="M551.87 472.93L575.14 482.35"/><path d="M575.14 482.35L598.4 491.95"/><path d="M598.4 491.95L621.66 501.7"/><path d="M621.66 501.7L644.93 511.62"/><path d="M644.93 511.62L668.19 521.71"/><path d="M668.19 521.71L691.46 531.96"/><path d="M691.46 531.96L714.72 542.38"/><path d="M714.72 542.38L737.98 552.96"/></g>
<circle cx="458.82" cy="436.87" r="3.6" stroke="#ff00ff" stroke-width="4.6" fill="none"/>
<circle cx="482.08" cy="445.63" r="3.6" stroke="#ff00ff" stroke-width="4.6" fill="none"/>
<circle cx="505.34" cy="454.57" r="3.6" stroke="#ff00ff" stroke-width="4.6" fill="none"/>
<circle cx="528.61" cy="463.66" r="3.6" stroke="#ff00ff" stroke-width="4.6" fill="none"/>
<circle cx="551.87" cy="472.93" r="3.6" stroke="#ff00ff" stroke-width="4.6" fill="none"/>
<circle cx="575.14" cy="482.35" r="3.6" stroke="#ff00ff" stroke-width="4.6" fill="none"/>
<circle cx="598.4" cy="491.95" r="3.6" stroke="#ff00ff" stroke-width="4.6" fill="none"/>
<circle cx="621.66" cy="501.7" r="3.6" stroke="#ff00ff" stroke-width="4.6" fill="none"/>
<circle cx="644.93" cy="511.62" r="3.6" stroke="#ff00ff" stroke-width="4.6" fill="none"/>
<circle cx="668.19" cy="521.71" r="3.6" stroke="#ff00ff" stroke-width="4.6" fill="none"/>
<circle cx="691.46" cy="531.96" r="3.6" stroke="#ff00ff" stroke-width="4.6" fill="none"/>
<circle cx="714.72" cy="542.38" r="3.6" stroke="#ff00ff" stroke-width="4.6" fill="none"/>
<circle cx="737.98" cy="552.96" r="3.6" stroke="#ff00ff" stroke-width="4.6" fill="none"/>
<polyline clip-path="url(#c5)" fill="none" stroke-width="4.5" stroke-linejoin="round" points="458.82,437.32 461.14,438.37 463.47,439.42 465.8,440.47 468.12,441.52 470.45,442.58 472.77,443.64 475.1,444.7 477.43,445.76 479.75,446.82 482.08,447.89 484.41,448.95 486.73,450.02 489.06,451.09 491.39,452.16 493.71,453.24 496.04,454.31 498.36,455.39 500.69,456.46 503.02,457.54 505.34,458.63 507.67,459.71 510,460.79 512.32,461.88 514.65,462.97 516.98,464.06 519.3,465.15 521.63,466.24 523.96,467.34 526.28,468.43 528.61,469.53 530.93,470.63 533.26,471.73 535.59,472.84 537.91,473.94 540.24,475.05 542.57,476.16 544.89,477.27 547.22,478.38 549.55,479.49 551.87,480.6 554.2,481.72 556.52,482.84 558.85,483.96 561.18,485.08 563.5,486.2 565.83,487.33 568.16,488.46 570.48,489.58 572.81,490.71 575.14,491.84 577.46,492.98 579.79,494.11 582.12,495.25 584.44,496.39 586.77,497.53 589.09,498.67 591.42,499.81 593.75,500.96 596.07,502.1 598.4,503.25 600.73,504.4 603.05,505.55 605.38,506.71 607.71,507.86 610.03,509.02 612.36,510.18 614.68,511.34 617.01,512.5 619.34,513.66 621.66,514.83 623.99,515.99 626.32,517.16 628.64,518.33 630.97,519.5 633.3,520.68 635.62,521.85 637.95,523.03 640.28,524.21 642.6,525.39 644.93,526.57 647.25,527.75 649.58,528.94 651.91,530.12 654.23,531.31 656.56,532.5 658.89,533.69 661.21,534.89 663.54,536.08 665.87,537.28 668.19,538.48 670.52,539.68 672.84,540.88 675.17,542.08 677.5,543.29 679.82,544.5 682.15,545.7 684.48,546.92 686.8,548.13 689.13,549.34 691.46,550.56 693.78,551.77 696.11,552.99 698.44,554.21 700.76,555.43 703.09,556.66 705.41,557.88 707.74,559.11 710.07,560.34 712.39,561.57 714.72,562.8 717.05,564.03 719.37,565.27 721.7,566.51 724.03,567.74 726.35,568.98 728.68,570.23 731,571.47 733.33,572.72 735.66,573.96 737.98,575.21" stroke="#00ffff" stroke-dasharray="4.5 4.1" stroke-dashoffset="-0"/>
<rect x="453" y="434.7" width="290.8" height="134.4" fill="none" stroke="#262626" stroke-width="1.3"/>
<path d="M453 569.1v-3M453 434.7v3M598.4 569.1v-3M598.4 434.7v3M743.8 569.1v-3M743.8 434.7v3M453 569.1h3M743.8 569.1h-3M453 501.9h3M743.8 501.9h-3M453 434.7h3M743.8 434.7h-3" stroke="#262626" stroke-width="1.3" fill="none"/>
<text x="453" y="595.4" font-size="23" text-anchor="middle">0</text>
<text x="598.4" y="595.4" font-size="23" text-anchor="middle">2.5</text>
<text x="743.8" y="595.4" font-size="23" text-anchor="middle">5</text>
<text x="447" y="576.7" font-size="23" text-anchor="end">-10</text>
<text x="447" y="509.5" font-size="23" text-anchor="end">-5</text>
<text x="447" y="442.3" font-size="23" text-anchor="end">0</text>
<rect x="467.6" y="488.4" width="116.4" height="78.9" fill="#fff" stroke="#3a3a3a" stroke-width="1.15"/>
<path d="M469.8 499.1H492.6" stroke="#ff0000" stroke-width="4.5"/>
<text x="494" y="503.9" font-size="17">g2 = 0.1 mm</text>
<path d="M469.8 518.4H488.3" stroke="#0000ff" stroke-width="4.5"/>
<text x="494" y="523.2" font-size="17">g2 = 0.2 mm</text>
<path d="M469.8 537.7H488.3" stroke="#ff00ff" stroke-width="4.5"/>
<circle cx="481.2" cy="537.7" r="3.6" stroke="#ff00ff" stroke-width="4.6" fill="#ff00ff"/>
<text x="494" y="542.5" font-size="17">g2 = 0.3 mm</text>
<path d="M470.3 557H492.6" stroke="#00ffff" stroke-width="4.5" stroke-dasharray="4.5 4.1"/>
<text x="494" y="561.8" font-size="17">g2 = 0.4 mm</text>
<text x="735.6" y="454.8" font-size="20.5" text-anchor="end">(f)</text>
<path d="M215.9 635.9V769.9M70.8 702.9H361" stroke="#dfdfdf" stroke-width="1" fill="none"/>
<polyline clip-path="url(#c6)" fill="none" stroke-width="4.5" stroke-linejoin="round" points="76.6,637.38 78.93,637.98 81.25,638.58 83.57,639.17 85.89,639.77 88.21,640.37 90.53,640.97 92.86,641.57 95.18,642.17 97.5,642.77 99.82,643.38 102.14,643.98 104.46,644.59 106.78,645.19 109.11,645.8 111.43,646.41 113.75,647.01 116.07,647.62 118.39,648.23 120.71,648.84 123.04,649.46 125.36,650.07 127.68,650.68 130,651.3 132.32,651.91 134.64,652.53 136.97,653.15 139.29,653.76 141.61,654.38 143.93,655 146.25,655.62 148.57,656.24 150.9,656.87 153.22,657.49 155.54,658.11 157.86,658.74 160.18,659.36 162.5,659.99 164.82,660.62 167.15,661.24 169.47,661.87 171.79,662.5 174.11,663.13 176.43,663.77 178.75,664.4 181.08,665.03 183.4,665.67 185.72,666.3 188.04,666.94 190.36,667.57 192.68,668.21 195.01,668.85 197.33,669.49 199.65,670.13 201.97,670.77 204.29,671.41 206.61,672.05 208.94,672.7 211.26,673.34 213.58,673.99 215.9,674.63 218.22,675.28 220.54,675.93 222.86,676.58 225.19,677.23 227.51,677.88 229.83,678.53 232.15,679.18 234.47,679.84 236.79,680.49 239.12,681.14 241.44,681.8 243.76,682.46 246.08,683.11 248.4,683.77 250.72,684.43 253.05,685.09 255.37,685.75 257.69,686.41 260.01,687.08 262.33,687.74 264.65,688.4 266.98,689.07 269.3,689.74 271.62,690.4 273.94,691.07 276.26,691.74 278.58,692.41 280.9,693.08 283.23,693.75 285.55,694.42 287.87,695.1 290.19,695.77 292.51,696.44 294.83,697.12 297.16,697.8 299.48,698.47 301.8,699.15 304.12,699.83 306.44,700.51 308.76,701.19 311.09,701.87 313.41,702.56 315.73,703.24 318.05,703.92 320.37,704.61 322.69,705.29 325.02,705.98 327.34,706.67 329.66,707.36 331.98,708.05 334.3,708.74 336.62,709.43 338.94,710.12 341.27,710.81 343.59,711.51 345.91,712.2 348.23,712.9 350.55,713.59 352.87,714.29 355.2,714.99" stroke="#ff0000"/>
<polyline clip-path="url(#c6)" fill="none" stroke-width="4.5" stroke-linejoin="round" points="76.6,637.74 78.93,638.48 81.25,639.22 83.57,639.96 85.89,640.71 88.21,641.45 90.53,642.19 92.86,642.93 95.18,643.68 97.5,644.42 99.82,645.17 102.14,645.91 104.46,646.66 106.78,647.41 109.11,648.16 111.43,648.9 113.75,649.65 116.07,650.4 118.39,651.16 120.71,651.91 123.04,652.66 125.36,653.41 127.68,654.17 130,654.92 132.32,655.68 134.64,656.43 136.97,657.19 139.29,657.95 141.61,658.7 143.93,659.46 146.25,660.22 148.57,660.98 150.9,661.74 153.22,662.5 155.54,663.27 157.86,664.03 160.18,664.79 162.5,665.56 164.82,666.32 167.15,667.09 169.47,667.85 171.79,668.62 174.11,669.39 176.43,670.16 178.75,670.93 181.08,671.7 183.4,672.47 185.72,673.24 188.04,674.01 190.36,674.78 192.68,675.56 195.01,676.33 197.33,677.1 199.65,677.88 201.97,678.66 204.29,679.43 206.61,680.21 208.94,680.99 211.26,681.77 213.58,682.55 215.9,683.33 218.22,684.11 220.54,684.89 222.86,685.67 225.19,686.46 227.51,687.24 229.83,688.02 232.15,688.81 234.47,689.6 236.79,690.38 239.12,691.17 241.44,691.96 243.76,692.75 246.08,693.54 248.4,694.33 250.72,695.12 253.05,695.91 255.37,696.7 257.69,697.49 260.01,698.29 262.33,699.08 264.65,699.88 266.98,700.67 269.3,701.47 271.62,702.27 273.94,703.06 276.26,703.86 278.58,704.66 280.9,705.46 283.23,706.26 285.55,707.06 287.87,707.86 290.19,708.67 292.51,709.47 294.83,710.27 297.16,711.08 299.48,711.89 301.8,712.69 304.12,713.5 306.44,714.31 308.76,715.11 311.09,715.92 313.41,716.73 315.73,717.54 318.05,718.35 320.37,719.17 322.69,719.98 325.02,720.79 327.34,721.61 329.66,722.42 331.98,723.24 334.3,724.05 336.62,724.87 338.94,725.69 341.27,726.5 343.59,727.32 345.91,728.14 348.23,728.96 350.55,729.78 352.87,730.6 355.2,731.43" stroke="#0000ff" stroke-dasharray="17.5 18.5" stroke-dashoffset="-0"/>
<g clip-path="url(#c6)" fill="none" stroke="#ff00ff" stroke-width="4.5" stroke-dasharray="17.5 300"><path d="M76.6 638.09L99.82 646.9"/><path d="M99.82 646.9L123.04 655.83"/><path d="M123.04 655.83L146.25 664.88"/><path d="M146.25 664.88L169.47 674.04"/><path d="M169.47 674.04L192.68 683.32"/><path d="M192.68 683.32L215.9 692.72"/><path d="M215.9 692.72L239.12 702.23"/><path d="M239.12 702.23L262.33 711.86"/><path d="M262.33 711.86L285.55 721.61"/><path d="M285.55 721.61L308.76 731.47"/><path d="M308.76 731.47L331.98 741.45"/><path d="M331.98 741.45L355.2 751.55"/></g>
<circle cx="76.6" cy="638.09" r="3.6" stroke="#ff00ff" stroke-width="4.6" fill="none"/>
<circle cx="99.82" cy="646.9" r="3.6" stroke="#ff00ff" stroke-width="4.6" fill="none"/>
<circle cx="123.04" cy="655.83" r="3.6" stroke="#ff00ff" stroke-width="4.6" fill="none"/>
<circle cx="146.25" cy="664.88" r="3.6" stroke="#ff00ff" stroke-width="4.6" fill="none"/>
<circle cx="169.47" cy="674.04" r="3.6" stroke="#ff00ff" stroke-width="4.6" fill="none"/>
<circle cx="192.68" cy="683.32" r="3.6" stroke="#ff00ff" stroke-width="4.6" fill="none"/>
<circle cx="215.9" cy="692.72" r="3.6" stroke="#ff00ff" stroke-width="4.6" fill="none"/>
<circle cx="239.12" cy="702.23" r="3.6" stroke="#ff00ff" stroke-width="4.6" fill="none"/>
<circle cx="262.33" cy="711.86" r="3.6" stroke="#ff00ff" stroke-width="4.6" fill="none"/>
<circle cx="285.55" cy="721.61" r="3.6" stroke="#ff00ff" stroke-width="4.6" fill="none"/>
<circle cx="308.76" cy="731.47" r="3.6" stroke="#ff00ff" stroke-width="4.6" fill="none"/>
<circle cx="331.98" cy="741.45" r="3.6" stroke="#ff00ff" stroke-width="4.6" fill="none"/>
<circle cx="355.2" cy="751.55" r="3.6" stroke="#ff00ff" stroke-width="4.6" fill="none"/>
<rect x="70.8" y="635.9" width="290.2" height="134" fill="none" stroke="#262626" stroke-width="1.3"/>
<path d="M70.8 769.9v-3M70.8 635.9v3M215.9 769.9v-3M215.9 635.9v3M361 769.9v-3M361 635.9v3M70.8 769.9h3M361 769.9h-3M70.8 702.9h3M361 702.9h-3M70.8 635.9h3M361 635.9h-3" stroke="#262626" stroke-width="1.3" fill="none"/>
<text x="70.8" y="796.2" font-size="23" text-anchor="middle">0</text>
<text x="215.9" y="796.2" font-size="23" text-anchor="middle">2.5</text>
<text x="361" y="796.2" font-size="23" text-anchor="middle">5</text>
<text x="64.8" y="777.5" font-size="23" text-anchor="end">-10</text>
<text x="64.8" y="710.5" font-size="23" text-anchor="end">-5</text>
<text x="64.8" y="643.5" font-size="23" text-anchor="end">0</text>
<rect x="85.3" y="706.9" width="116.1" height="59.4" fill="#fff" stroke="#3a3a3a" stroke-width="1.15"/>
<path d="M87.5 717.6H110.3" stroke="#ff0000" stroke-width="4.5"/>
<text x="111.7" y="722.4" font-size="17">r1 = 1.0 mm</text>
<path d="M87.5 736.9H106" stroke="#0000ff" stroke-width="4.5"/>
<text x="111.7" y="741.7" font-size="17">r1 = 1.1 mm</text>
<path d="M87.5 756.2H106" stroke="#ff00ff" stroke-width="4.5"/>
<circle cx="98.9" cy="756.2" r="3.6" stroke="#ff00ff" stroke-width="4.6" fill="#ff00ff"/>
<text x="111.7" y="761" font-size="17">r1 = 1.2 mm</text>
<text x="356.4" y="655.8" font-size="20.5" text-anchor="end">(g)</text>
<path d="M598.4 635.9V769.9M453 702.9H743.8" stroke="#dfdfdf" stroke-width="1" fill="none"/>
<polyline clip-path="url(#c7)" fill="none" stroke-width="4.5" stroke-linejoin="round" points="458.82,637.47 461.14,638.1 463.47,638.73 465.8,639.36 468.12,639.99 470.45,640.62 472.77,641.25 475.1,641.88 477.43,642.51 479.75,643.14 482.08,643.77 484.41,644.4 486.73,645.03 489.06,645.66 491.39,646.3 493.71,646.93 496.04,647.56 498.36,648.19 500.69,648.83 503.02,649.46 505.34,650.09 507.67,650.73 510,651.36 512.32,652 514.65,652.63 516.98,653.27 519.3,653.9 521.63,654.54 523.96,655.18 526.28,655.81 528.61,656.45 530.93,657.09 533.26,657.73 535.59,658.36 537.91,659 540.24,659.64 542.57,660.28 544.89,660.92 547.22,661.56 549.55,662.2 551.87,662.83 554.2,663.47 556.52,664.12 558.85,664.76 561.18,665.4 563.5,666.04 565.83,666.68 568.16,667.32 570.48,667.96 572.81,668.61 575.14,669.25 577.46,669.89 579.79,670.53 582.12,671.18 584.44,671.82 586.77,672.47 589.09,673.11 591.42,673.75 593.75,674.4 596.07,675.04 598.4,675.69 600.73,676.34 603.05,676.98 605.38,677.63 607.71,678.27 610.03,678.92 612.36,679.57 614.68,680.22 617.01,680.86 619.34,681.51 621.66,682.16 623.99,682.81 626.32,683.46 628.64,684.11 630.97,684.76 633.3,685.41 635.62,686.06 637.95,686.71 640.28,687.36 642.6,688.01 644.93,688.66 647.25,689.31 649.58,689.96 651.91,690.61 654.23,691.27 656.56,691.92 658.89,692.57 661.21,693.23 663.54,693.88 665.87,694.53 668.19,695.19 670.52,695.84 672.84,696.5 675.17,697.15 677.5,697.81 679.82,698.46 682.15,699.12 684.48,699.77 686.8,700.43 689.13,701.09 691.46,701.74 693.78,702.4 696.11,703.06 698.44,703.72 700.76,704.37 703.09,705.03 705.41,705.69 707.74,706.35 710.07,707.01 712.39,707.67 714.72,708.33 717.05,708.99 719.37,709.65 721.7,710.31 724.03,710.97 726.35,711.63 728.68,712.29 731,712.96 733.33,713.62 735.66,714.28 737.98,714.94" stroke="#ff0000"/>
<polyline clip-path="url(#c7)" fill="none" stroke-width="4.5" stroke-linejoin="round" points="458.82,637.82 461.14,638.59 463.47,639.36 465.8,640.13 468.12,640.91 470.45,641.68 472.77,642.45 475.1,643.23 477.43,644 479.75,644.78 482.08,645.55 484.41,646.33 486.73,647.11 489.06,647.89 491.39,648.67 493.71,649.45 496.04,650.23 498.36,651.01 500.69,651.79 503.02,652.58 505.34,653.36 507.67,654.15 510,654.93 512.32,655.72 514.65,656.51 516.98,657.29 519.3,658.08 521.63,658.87 523.96,659.66 526.28,660.45 528.61,661.25 530.93,662.04 533.26,662.83 535.59,663.63 537.91,664.42 540.24,665.22 542.57,666.01 544.89,666.81 547.22,667.61 549.55,668.41 551.87,669.21 554.2,670.01 556.52,670.81 558.85,671.61 561.18,672.41 563.5,673.21 565.83,674.02 568.16,674.82 570.48,675.63 572.81,676.44 575.14,677.24 577.46,678.05 579.79,678.86 582.12,679.67 584.44,680.48 586.77,681.29 589.09,682.1 591.42,682.91 593.75,683.73 596.07,684.54 598.4,685.35 600.73,686.17 603.05,686.99 605.38,687.8 607.71,688.62 610.03,689.44 612.36,690.26 614.68,691.08 617.01,691.9 619.34,692.72 621.66,693.54 623.99,694.37 626.32,695.19 628.64,696.01 630.97,696.84 633.3,697.66 635.62,698.49 637.95,699.32 640.28,700.15 642.6,700.98 644.93,701.81 647.25,702.64 649.58,703.47 651.91,704.3 654.23,705.13 656.56,705.97 658.89,706.8 661.21,707.64 663.54,708.47 665.87,709.31 668.19,710.15 670.52,710.98 672.84,711.82 675.17,712.66 677.5,713.5 679.82,714.34 682.15,715.19 684.48,716.03 686.8,716.87 689.13,717.72 691.46,718.56 693.78,719.41 696.11,720.25 698.44,721.1 700.76,721.95 703.09,722.8 705.41,723.65 707.74,724.5 710.07,725.35 712.39,726.2 714.72,727.05 717.05,727.91 719.37,728.76 721.7,729.61 724.03,730.47 726.35,731.33 728.68,732.18 731,733.04 733.33,733.9 735.66,734.76 737.98,735.62" stroke="#0000ff" stroke-dasharray="17.5 18.5" stroke-dashoffset="-0"/>
<g clip-path="url(#c7)" fill="none" stroke="#ff00ff" stroke-width="4.5" stroke-dasharray="17.5 300"><path d="M458.82 638.13L482.08 647.1"/><path d="M482.08 647.1L505.34 656.12"/><path d="M505.34 656.12L528.61 665.19"/><path d="M528.61 665.19L551.87 674.31"/><path d="M551.87 674.31L575.14 683.48"/><path d="M575.14 683.48L598.4 692.71"/><path d="M598.4 692.71L621.66 701.98"/><path d="M621.66 701.98L644.93 711.31"/><path d="M644.93 711.31L668.19 720.68"/><path d="M668.19 720.68L691.46 730.11"/><path d="M691.46 730.11L714.72 739.59"/><path d="M714.72 739.59L737.98 749.12"/></g>
<circle cx="458.82" cy="638.13" r="3.6" stroke="#ff00ff" stroke-width="4.6" fill="none"/>
<circle cx="482.08" cy="647.1" r="3.6" stroke="#ff00ff" stroke-width="4.6" fill="none"/>
<circle cx="505.34" cy="656.12" r="3.6" stroke="#ff00ff" stroke-width="4.6" fill="none"/>
<circle cx="528.61" cy="665.19" r="3.6" stroke="#ff00ff" stroke-width="4.6" fill="none"/>
<circle cx="551.87" cy="674.31" r="3.6" stroke="#ff00ff" stroke-width="4.6" fill="none"/>
<circle cx="575.14" cy="683.48" r="3.6" stroke="#ff00ff" stroke-width="4.6" fill="none"/>
<circle cx="598.4" cy="692.71" r="3.6" stroke="#ff00ff" stroke-width="4.6" fill="none"/>
<circle cx="621.66" cy="701.98" r="3.6" stroke="#ff00ff" stroke-width="4.6" fill="none"/>
<circle cx="644.93" cy="711.31" r="3.6" stroke="#ff00ff" stroke-width="4.6" fill="none"/>
<circle cx="668.19" cy="720.68" r="3.6" stroke="#ff00ff" stroke-width="4.6" fill="none"/>
<circle cx="691.46" cy="730.11" r="3.6" stroke="#ff00ff" stroke-width="4.6" fill="none"/>
<circle cx="714.72" cy="739.59" r="3.6" stroke="#ff00ff" stroke-width="4.6" fill="none"/>
<circle cx="737.98" cy="749.12" r="3.6" stroke="#ff00ff" stroke-width="4.6" fill="none"/>
<rect x="453" y="635.9" width="290.8" height="134" fill="none" stroke="#262626" stroke-width="1.3"/>
<path d="M453 769.9v-3M453 635.9v3M598.4 769.9v-3M598.4 635.9v3M743.8 769.9v-3M743.8 635.9v3M453 769.9h3M743.8 769.9h-3M453 702.9h3M743.8 702.9h-3M453 635.9h3M743.8 635.9h-3" stroke="#262626" stroke-width="1.3" fill="none"/>
<text x="453" y="796.2" font-size="23" text-anchor="middle">0</text>
<text x="598.4" y="796.2" font-size="23" text-anchor="middle">2.5</text>
<text x="743.8" y="796.2" font-size="23" text-anchor="middle">5</text>
<text x="447" y="777.5" font-size="23" text-anchor="end">-10</text>
<text x="447" y="710.5" font-size="23" text-anchor="end">-5</text>
<text x="447" y="643.5" font-size="23" text-anchor="end">0</text>
<rect x="456.8" y="706.8" width="155.7" height="59.6" fill="#fff" stroke="#3a3a3a" stroke-width="1.15"/>
<path d="M459 717.5H481.8" stroke="#ff0000" stroke-width="4.5"/>
<text x="483.2" y="722.3" font-size="17">Hsub = 0.254 mm</text>
<path d="M459 736.8H477.5" stroke="#0000ff" stroke-width="4.5"/>
<text x="483.2" y="741.6" font-size="17">Hsub = 0.508 mm</text>
<path d="M459 756.1H477.5" stroke="#ff00ff" stroke-width="4.5"/>
<circle cx="470.4" cy="756.1" r="3.6" stroke="#ff00ff" stroke-width="4.6" fill="#ff00ff"/>
<text x="483.2" y="760.9" font-size="17">Hsub = 0.762 mm</text>
<text x="737" y="655.8" font-size="20.5" text-anchor="end">(h)</text>
<text transform="translate(17 74.85) rotate(-90)" font-size="22" letter-spacing="0.35" text-anchor="middle">|S<tspan font-size="18" dy="11.3">11</tspan><tspan dy="-11.3">| (dB)</tspan></text>
<text transform="translate(17 275.95) rotate(-90)" font-size="22" letter-spacing="0.35" text-anchor="middle">|S<tspan font-size="18" dy="11.3">11</tspan><tspan dy="-11.3">| (dB)</tspan></text>
<text transform="translate(17 501.9) rotate(-90)" font-size="22" letter-spacing="0.35" text-anchor="middle">S<tspan font-size="18" dy="11.3">21</tspan><tspan dy="-11.3"> phase (deg.)</tspan></text>
<text transform="translate(17 702.9) rotate(-90)" font-size="22" letter-spacing="0.35" text-anchor="middle">S<tspan font-size="18" dy="11.3">21</tspan><tspan dy="-11.3"> phase (deg.)</tspan></text>
<text x="215.9" y="395.1" font-size="22" letter-spacing="0.33" text-anchor="middle">Frequency (GHz)</text>
<text x="598.4" y="395.1" font-size="22" letter-spacing="0.33" text-anchor="middle">Frequency (GHz)</text>
<text x="215.9" y="822.1" font-size="22" letter-spacing="0.33" text-anchor="middle">Frequency (GHz)</text>
<text x="598.4" y="822.1" font-size="22" letter-spacing="0.33" text-anchor="middle">Frequency (GHz)</text>
</svg>
</body></html>
